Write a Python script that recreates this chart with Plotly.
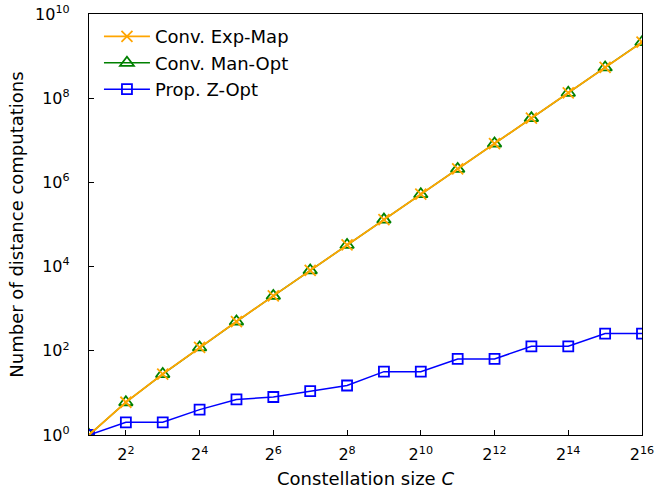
import plotly.graph_objects as go

# Constellation sizes C = 2^1 ... 2^16
constellation = [2, 4, 8, 16, 32, 64, 128, 256, 512, 1024, 2048, 4096,
                 8192, 16384, 32768, 65536]

# Number of distance computations per method
conv_exp_map = [1, 6, 28, 120, 496, 2016, 8128, 32640, 130816, 523776,
                2096128, 8386560, 33550336, 134209536, 536854528, 2147450880]
conv_man_opt = [1, 6, 28, 120, 496, 2016, 8128, 32640, 130816, 523776,
                2096128, 8386560, 33550336, 134209536, 536854528, 2147450880]
prop_z_opt = [1, 2, 2, 4, 7, 8, 11, 15, 32, 32, 64, 64, 128, 128, 256, 256]

x_tick_vals = [4, 16, 64, 256, 1024, 4096, 16384, 65536]
x_tick_text = ["2<sup>2</sup>", "2<sup>4</sup>", "2<sup>6</sup>", "2<sup>8</sup>",
               "2<sup>10</sup>", "2<sup>12</sup>", "2<sup>14</sup>", "2<sup>16</sup>"]
y_tick_vals = [1, 1e2, 1e4, 1e6, 1e8, 1e10]
y_tick_text = ["10<sup>0</sup>", "10<sup>2</sup>", "10<sup>4</sup>",
               "10<sup>6</sup>", "10<sup>8</sup>", "10<sup>10</sup>"]

FONT = "DejaVu Sans"
FS = 18
TICK_FS = 16

fig = go.Figure()

fig.add_trace(go.Scatter(
    x=constellation, y=conv_man_opt, name="Conv. Man-Opt", legendrank=2,
    mode="lines+markers",
    line=dict(color="#008000", width=1.5),
    marker=dict(symbol="triangle-up-open", size=12, color="#008000",
                line=dict(width=1.8, color="#008000")),
))
fig.add_trace(go.Scatter(
    x=constellation, y=prop_z_opt, name="Prop. Z-Opt", legendrank=3,
    mode="lines+markers",
    line=dict(color="#0000ff", width=1.5),
    marker=dict(symbol="square-open", size=10, color="#0000ff",
                line=dict(width=1.8, color="#0000ff")),
))
fig.add_trace(go.Scatter(
    x=constellation, y=conv_exp_map, name="Conv. Exp-Map", legendrank=1,
    mode="lines+markers",
    line=dict(color="#ffa500", width=1.8),
    marker=dict(symbol="x-thin-open", size=11, color="#ffa500",
                line=dict(width=1.8, color="#ffa500")),
))

axis_common = dict(
    showgrid=False, zeroline=False, showline=True, linecolor="black",
    linewidth=1.3, mirror=True, ticks="inside", ticklen=5, tickwidth=1.2,
    tickcolor="black", tickfont=dict(family=FONT, size=TICK_FS, color="black"),
    automargin=False, ticklabeloverflow="allow",
)

fig.update_xaxes(
    type="log", range=[0.30103, 4.81648],
    tickvals=x_tick_vals, ticktext=x_tick_text, ticklabelstandoff=5,
    title=dict(text="Constellation size <i>C</i>",
               font=dict(family=FONT, size=FS, color="black"), standoff=9),
    **axis_common,
)
fig.update_yaxes(
    type="log", range=[0, 10],
    tickvals=y_tick_vals, ticktext=y_tick_text, ticklabelstandoff=15,
    title=dict(text="Number of distance computations",
               font=dict(family=FONT, size=FS, color="black"), standoff=6),
    **axis_common,
)

fig.update_layout(
    width=654, height=496,
    margin=dict(l=89, r=12, t=14, b=61),
    plot_bgcolor="white", paper_bgcolor="white",
    font=dict(family=FONT, size=FS, color="black"),
    legend=dict(x=0.018, y=0.99, xanchor="left", yanchor="top",
                bgcolor="rgba(255,255,255,0)", borderwidth=0,
                font=dict(family=FONT, size=FS, color="black"),
                itemwidth=46, tracegroupgap=0),
    showlegend=True,
)

fig.write_html("out.html")
